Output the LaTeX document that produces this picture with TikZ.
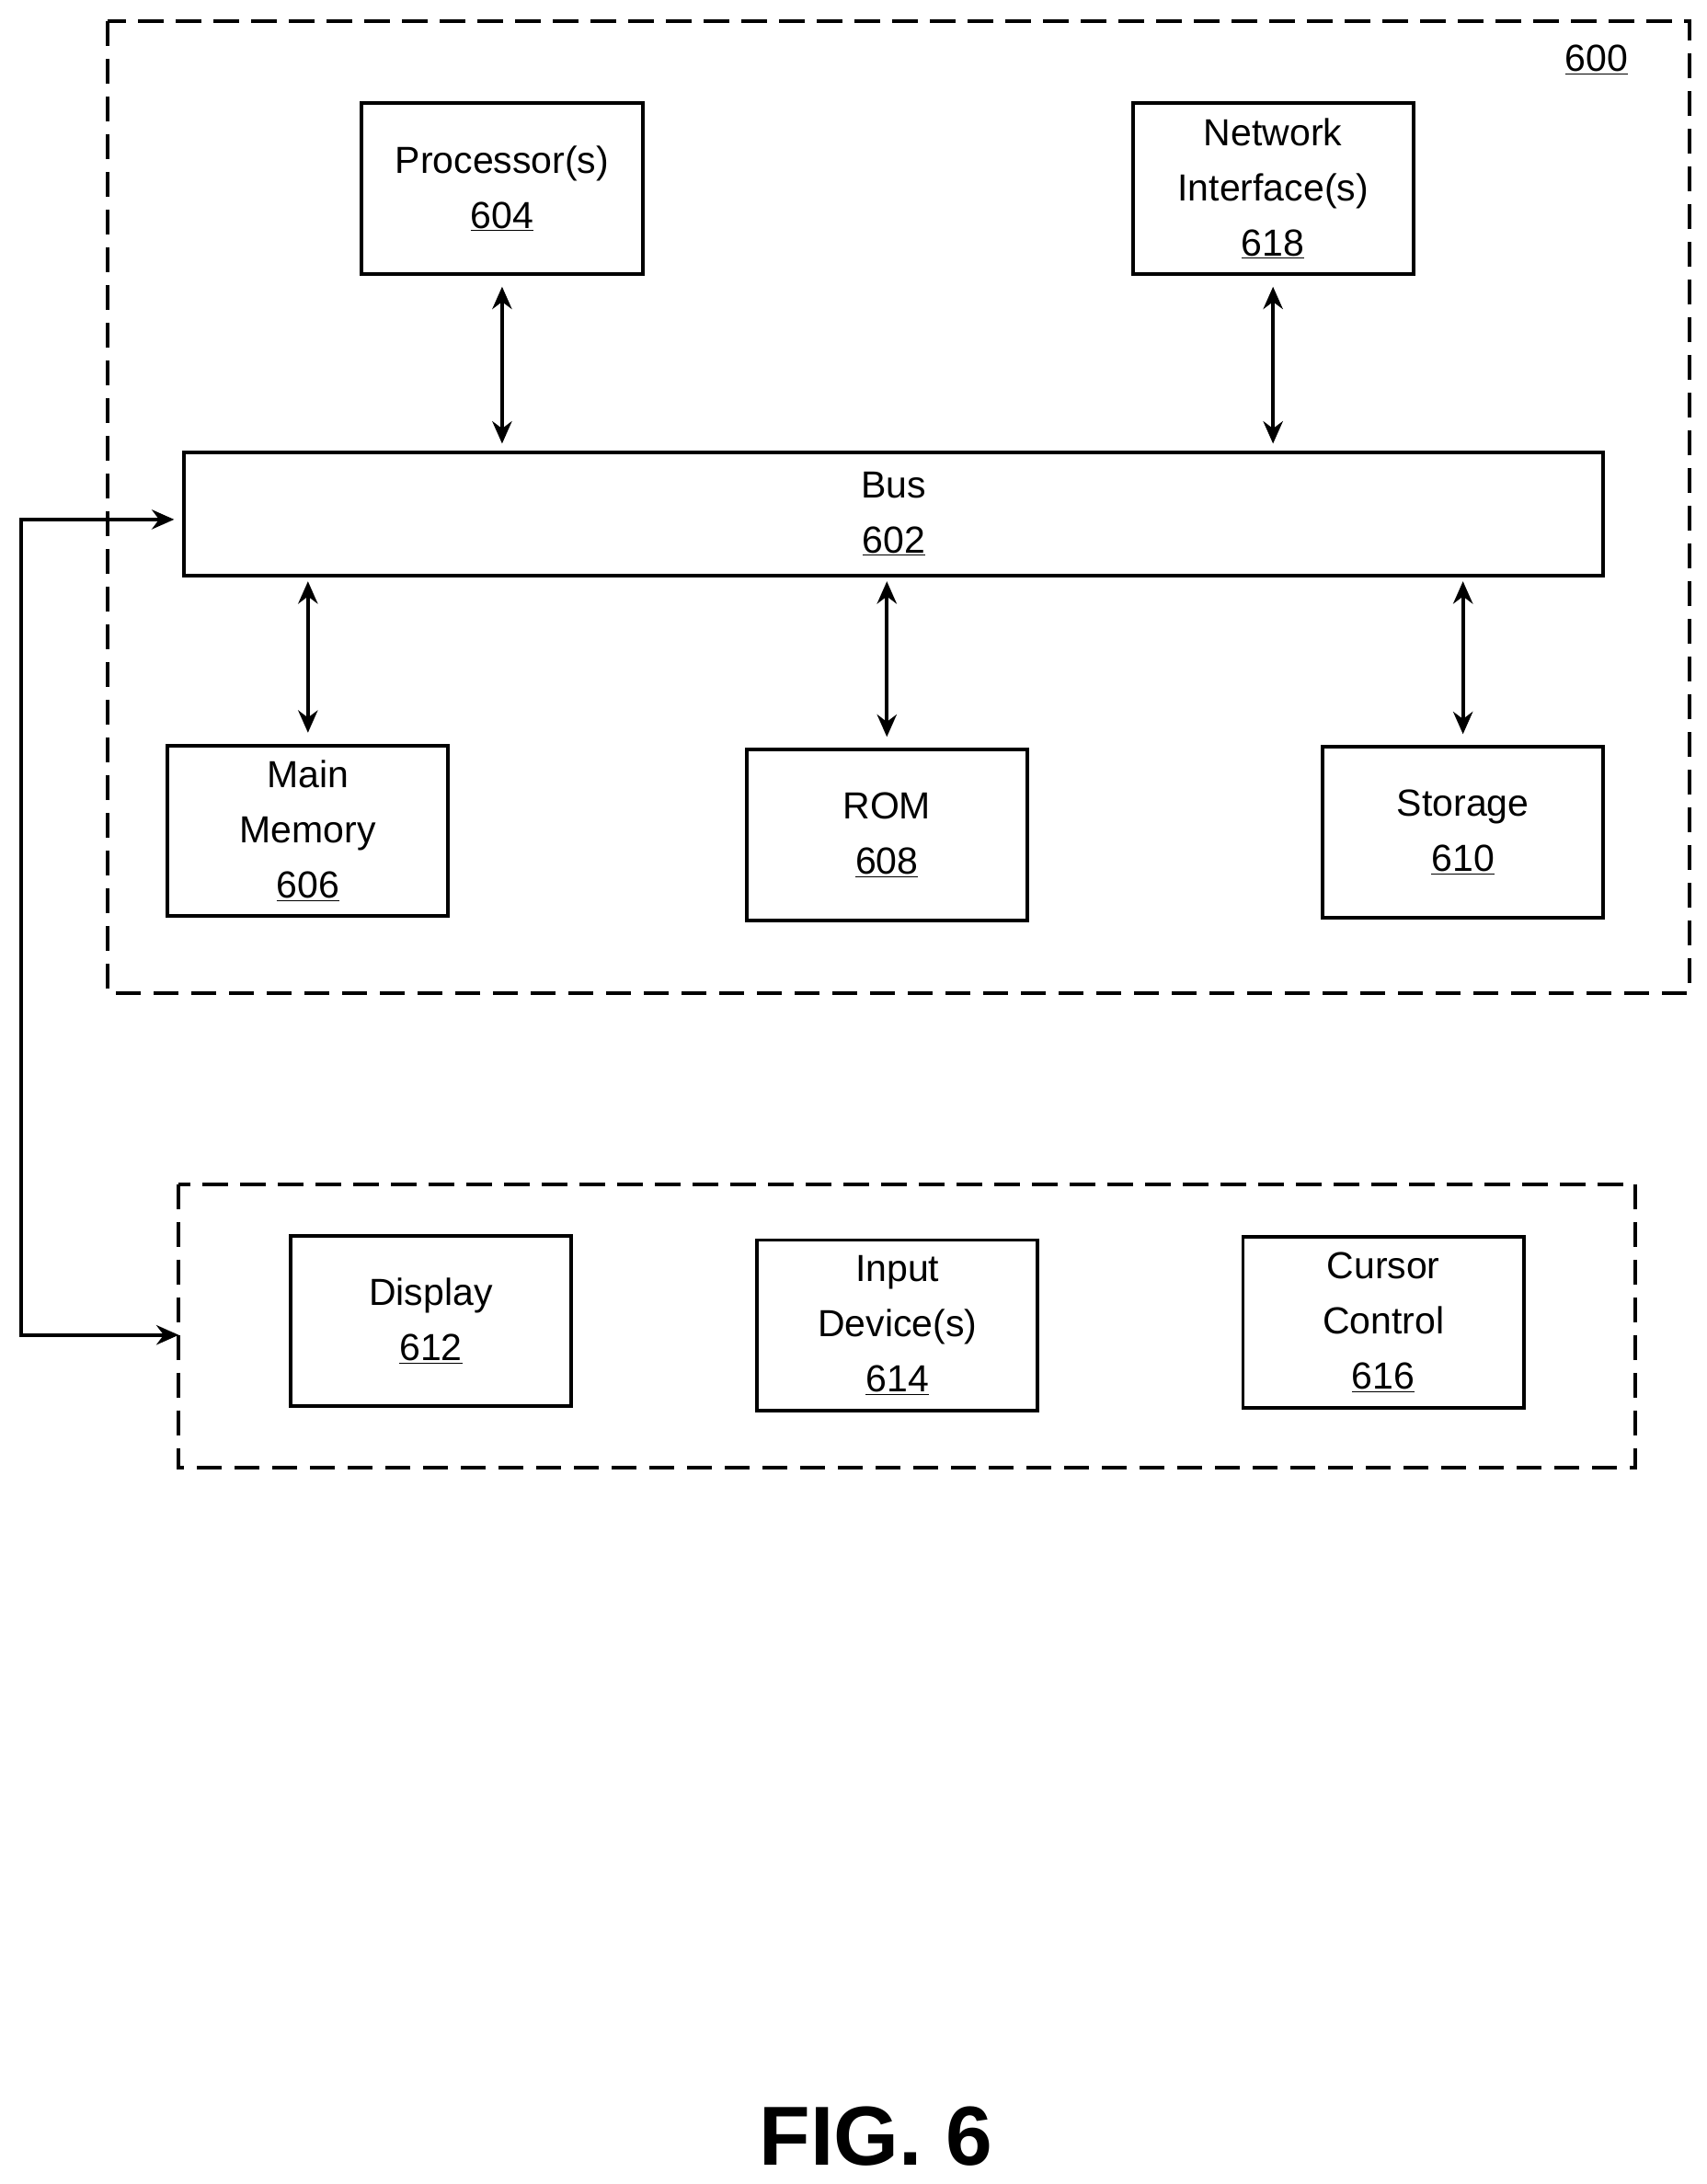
\documentclass[tikz,border=0pt]{standalone}
\usepackage{fontspec}
\setmainfont{Liberation Sans}
\usetikzlibrary{arrows.meta}
\begin{document}
\begin{tikzpicture}[x=1pt,y=-1pt,
 box/.style={draw,line width=2.6pt,minimum width=201pt,minimum height=122pt,inner sep=0pt,align=center,font=\fontsize{27}{39.5}\selectfont},
 grp/.style={draw,line width=2.6pt,dash pattern=on 18pt off 9pt},
 arr/.style={line width=2.6pt,{Stealth[length=16pt,width=14pt]}-{Stealth[length=16pt,width=14pt]}}]
\useasboundingbox (0,0) rectangle (1222,1564);
\draw[grp] (77,15) rectangle (1210,711);
\node[font=\fontsize{27}{32}\selectfont] (l600) at (1143,43) {\underline{600}};
\node[box] (proc) at (359.5,135) {Processor(s)\\\underline{604}};
\node[box] (net) at (911.5,135) {Network\\Interface(s)\\\underline{618}};
\node[box,minimum width=1016pt,minimum height=88pt] (bus) at (640,368) {Bus\\\underline{602}};
\node[box] (mm) at (220.5,595) {Main\\Memory\\\underline{606}};
\node[box] (rom) at (635,598) {ROM\\\underline{608}};
\node[box] (sto) at (1047.5,596) {Storage\\\underline{610}};
\draw[grp] (128,848) rectangle (1171,1051);
\coordinate (lw) at (128,956);
\node[box] (disp) at (308.5,946) {Display\\\underline{612}};
\node[box] (inp) at (642.5,949) {Input\\Device(s)\\\underline{614}};
\node[box] (cur) at (990.5,947) {Cursor\\Control\\\underline{616}};
\draw[arr,shorten <=8pt,shorten >=5pt] (proc.south) -- (proc.south |- bus.north);
\draw[arr,shorten <=8pt,shorten >=5pt] (net.south) -- (net.south |- bus.north);
\draw[arr,shorten <=3pt,shorten >=8pt] (mm.north |- bus.south) -- (mm.north);
\draw[arr,shorten <=3pt,shorten >=8pt] (rom.north |- bus.south) -- (rom.north);
\draw[arr,shorten <=3pt,shorten >=8pt] (sto.north |- bus.south) -- (sto.north);
\coordinate (c1) at (15,372);
\coordinate (c2) at (15,956);
\draw[arr,shorten <=6pt] (bus.west |- c1) -- (c1) -- (c2) -- (lw);
\node[font=\bfseries\fontsize{60}{70}\selectfont] (fig) at (627,1530) {FIG. 6};
\end{tikzpicture}
\end{document}
